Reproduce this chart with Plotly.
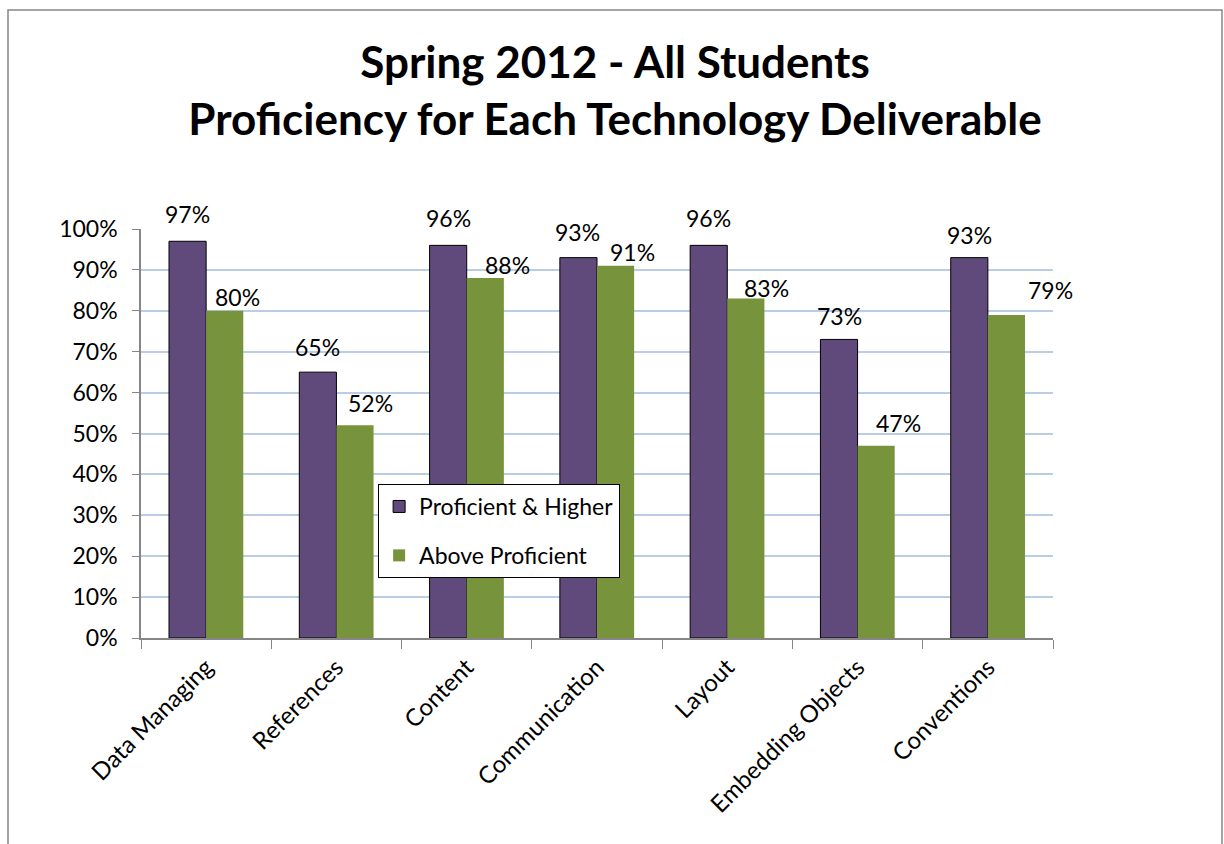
import plotly.graph_objects as go

categories = ["Data Managing", "References", "Content", "Communication", "Layout",
              "Embedding Objects", "Conventions"]
proficient_higher = [0.97, 0.65, 0.96, 0.93, 0.96, 0.73, 0.93]
above_proficient = [0.80, 0.52, 0.88, 0.91, 0.83, 0.47, 0.79]
y_ticks = [0, 0.1, 0.2, 0.3, 0.4, 0.5, 0.6, 0.7, 0.8, 0.9, 1.0]

PURPLE = "#604A7B"
GREEN = "#77933C"
FONT = "Lato, 'Open Sans', sans-serif"

# label offsets (pixels) to mimic reference placement
purple_dx = [0, 0, 0, -1, 0, 0, 0]
purple_dy = [27, 25, 27, 26, 27, 23, 23]
green_dx = [13, 16, 22, 17, 21, 22, 44]
green_dy = [14, 22, 13, 14, 11, 23, 25]

fig = go.Figure()
fig.add_trace(go.Bar(
    x=categories, y=proficient_higher, name="Proficient & Higher",
    marker=dict(color=PURPLE, line=dict(color="#000000", width=1)),
    legendgroup="a",
))
fig.add_trace(go.Bar(
    x=categories, y=above_proficient, name="Above Proficient",
    marker=dict(color=GREEN, line=dict(color=GREEN, width=0)),
    legendgroup="b",
))

annotations = []
for i, c in enumerate(categories):
    annotations.append(dict(
        x=c, y=proficient_higher[i], xref="x", yref="y",
        text=f"{round(proficient_higher[i]*100):.0f}%", showarrow=False,
        xshift=-18.5 + purple_dx[i], yshift=purple_dy[i], yanchor="middle",
        font=dict(family=FONT, size=23, color="#000000"),
    ))
    annotations.append(dict(
        x=c, y=above_proficient[i], xref="x", yref="y",
        text=f"{round(above_proficient[i]*100):.0f}%", showarrow=False,
        xshift=18.5 + green_dx[i], yshift=green_dy[i], yanchor="middle",
        font=dict(family=FONT, size=23, color="#000000"),
    ))

fig.update_layout(
    width=1224, height=844,
    margin=dict(l=141, r=171, t=229, b=206, autoexpand=False),
    paper_bgcolor="white", plot_bgcolor="white",
    barmode="group", bargap=0.43, bargroupgap=0,
    title=dict(
        text="Spring 2012 - All Students<br>Proficiency for Each Technology Deliverable",
        x=615 / 1224, xanchor="center", xref="container",
        y=1 - 77.5 / 844, yanchor="middle", yref="container",
        font=dict(family=FONT, size=44, color="#000000", weight="bold"),
    ),
    font=dict(family=FONT, size=23, color="#000000"),
    xaxis=dict(
        range=[-0.5, 6.5], automargin=False,
        showline=True, linecolor="#868686", linewidth=1.5,
        ticks="outside", tickson="boundaries", ticklen=9, tickcolor="#868686",
        tickangle=-45, tickfont=dict(family=FONT, size=24), ticklabelstandoff=4,
        showgrid=False,
    ),
    yaxis=dict(
        range=[0, 1.0], tickvals=y_ticks, tickformat=".0%", automargin=False,
        showline=True, linecolor="#868686", linewidth=1.5,
        ticks="outside", ticklen=7, tickcolor="#868686",
        showgrid=True, gridcolor="#B9CDE5", gridwidth=1.5,
        tickfont=dict(family=FONT, size=23), ticklabelstandoff=10,
        zeroline=False,
    ),
    legend=dict(
        x=0.26, y=0.3765, xanchor="left", yanchor="top",
        bgcolor="white", bordercolor="#000000", borderwidth=1,
        font=dict(family=FONT, size=23), tracegroupgap=16,
        traceorder="grouped", entrywidth=233,
    ),
    annotations=annotations,
    shapes=[dict(
        type="rect", xref="paper", yref="paper",
        x0=(8 - 141) / 912, x1=(1222 - 141) / 912,
        y0=(638 - 860) / 409, y1=(638 - 10) / 409,
        line=dict(color="#878787", width=1.5), fillcolor="rgba(0,0,0,0)",
        layer="below",
    )],
)

fig.write_html("out.html")
